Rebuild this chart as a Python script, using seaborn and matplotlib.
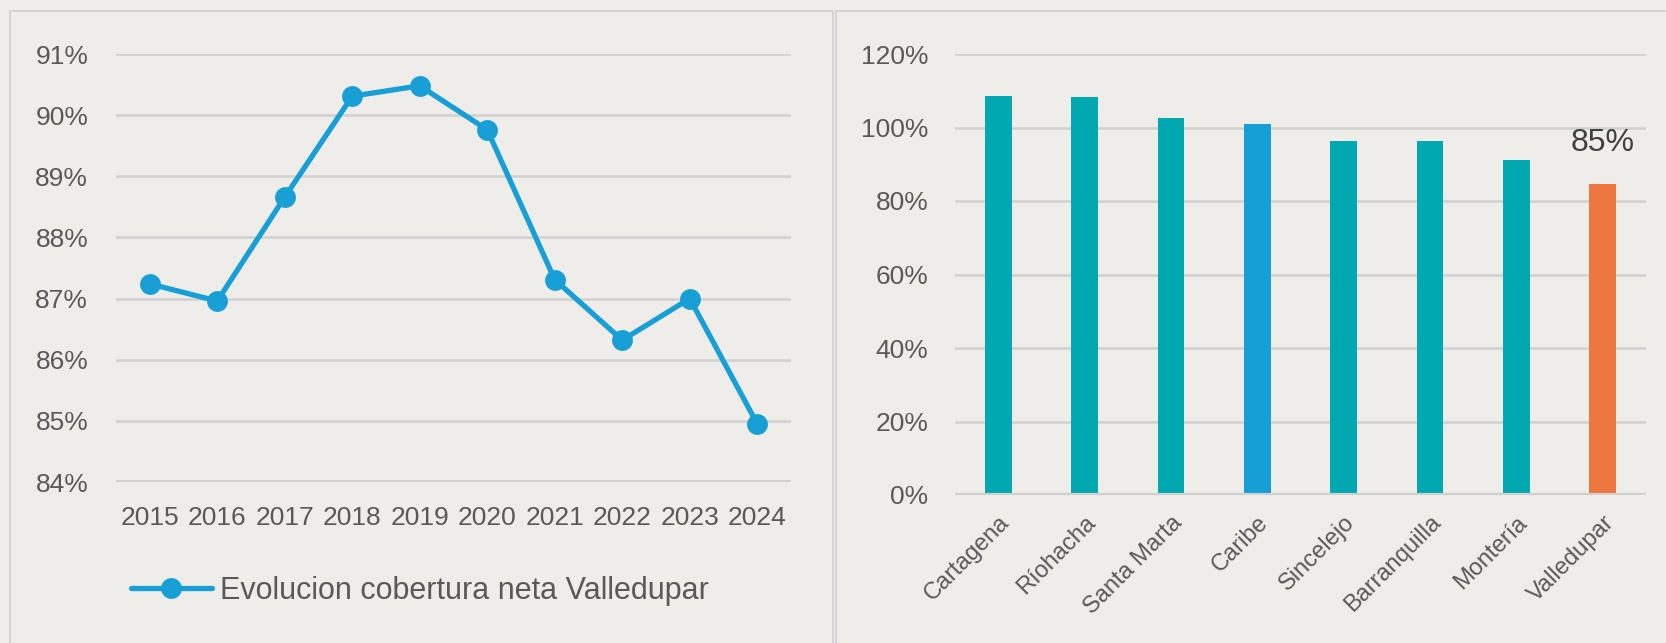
import pandas as pd
import numpy as np
import matplotlib.pyplot as plt
import seaborn as sns
from matplotlib.lines import Line2D
from matplotlib.ticker import FuncFormatter

years = ['2015', '2016', '2017', '2018', '2019', '2020', '2021', '2022', '2023', '2024']
cobertura = [87.24, 86.96, 88.66, 90.31, 90.48, 89.76, 87.31, 86.32, 87.0, 84.95]

ciudades = ['Cartagena', 'Ríohacha', 'Santa Marta', 'Caribe', 'Sincelejo',
            'Barranquilla', 'Montería', 'Valledupar']
cobertura_ciudades = [108.6, 108.2, 102.5, 100.95, 96.3, 96.2, 91.2, 84.7]
colores = ['#00A9B2', '#00A9B2', '#00A9B2', '#159FD6', '#00A9B2', '#00A9B2', '#00A9B2', '#ED773E']

bg = '#EEEDE9'
grid_c = '#CFD0D0'
txt_c = '#595959'
border_c = '#D0D0D0'

sns.set_theme(style='white')
plt.rcParams['font.family'] = ['Liberation Sans', 'DejaVu Sans']
plt.rcParams['text.color'] = txt_c

W, H = 1666, 643
fig = plt.figure(figsize=(W / 100, H / 100), dpi=100)
fig.patch.set_facecolor(bg)

# panel borders
top = 1 - 11 / H
fig.add_artist(Line2D([10 / W, 10 / W], [0, top], color=border_c, lw=1.2))
fig.add_artist(Line2D([10 / W, 833 / W], [top, top], color=border_c, lw=1.2))
fig.add_artist(Line2D([833 / W, 833 / W], [0, top], color=border_c, lw=1.2))
fig.add_artist(Line2D([836 / W, 836 / W], [0, top], color=border_c, lw=1.2))
fig.add_artist(Line2D([836 / W, 1], [top, top], color=border_c, lw=1.2))

# ---- left: line chart
ax1 = fig.add_axes([116 / W, 1 - 482 / H, 675 / W, 428 / H])
ax1.set_facecolor('none')
df1 = pd.DataFrame({'year': years, 'cobertura': cobertura})
sns.lineplot(data=df1, x='year', y='cobertura', ax=ax1, color='#179FD6', lw=3.8,
             marker='o', markersize=15, markeredgewidth=0, sort=False, legend=False)
ax1.set_ylim(84, 91)
ax1.set_xlim(-0.5, 9.5)
ax1.set_yticks(range(84, 92))
ax1.yaxis.set_major_formatter(FuncFormatter(lambda v, p: f'{v:.0f}%'))
for v in range(85, 92):
    ax1.axhline(v, color=grid_c, lw=1.8, zorder=0)
ax1.axhline(84, color=grid_c, lw=2.8, zorder=0)
ax1.tick_params(axis='y', length=0, pad=20, labelsize=19, labelcolor=txt_c)
ax1.tick_params(axis='x', length=0, pad=17, labelsize=19, labelcolor=txt_c)
ax1.set_xlabel('')
ax1.set_ylabel('')
for s in ax1.spines.values():
    s.set_visible(False)

handle = Line2D([], [], color='#179FD6', lw=3.8, marker='o', markersize=15, markeredgewidth=0)
fig.legend([handle], ['Evolucion cobertura neta Valledupar'], loc='center left',
           bbox_to_anchor=(131 / W, 1 - 591 / H), frameon=False, fontsize=22,
           handlelength=2.65, handletextpad=0.25, borderpad=0, borderaxespad=0,
           labelcolor=txt_c)

# ---- right: bar chart
ax2 = fig.add_axes([955 / W, 1 - 495 / H, 691 / W, 441 / H])
ax2.set_facecolor('none')
df2 = pd.DataFrame({'ciudad': ciudades, 'valor': cobertura_ciudades})
sns.barplot(data=df2, x='ciudad', y='valor', hue='ciudad', palette=colores,
            ax=ax2, width=0.31, legend=False, saturation=1, linewidth=0, zorder=2)
ax2.set_ylim(0, 120)
ax2.set_xlim(-0.5, 7.5)
ax2.set_yticks(range(0, 121, 20))
ax2.yaxis.set_major_formatter(FuncFormatter(lambda v, p: f'{v:.0f}%'))
for v in range(20, 121, 20):
    ax2.axhline(v, color=grid_c, lw=1.8, zorder=0)
ax2.axhline(0, color=grid_c, lw=3, zorder=3)
ax2.tick_params(axis='y', length=0, pad=19, labelsize=19, labelcolor=txt_c)
ax2.tick_params(axis='x', length=0, pad=12, labelsize=17, labelcolor=txt_c)
plt.setp(ax2.get_xticklabels(), rotation=45, ha='right', rotation_mode='anchor')
ax2.set_xlabel('')
ax2.set_ylabel('')
for s in ax2.spines.values():
    s.set_visible(False)

ax2.text(7, cobertura_ciudades[-1] + 11, f'{cobertura_ciudades[-1]:.0f}%', ha='center',
         va='center', fontsize=23, color='#404040')

fig.savefig('out.png', dpi=100, facecolor=bg)
